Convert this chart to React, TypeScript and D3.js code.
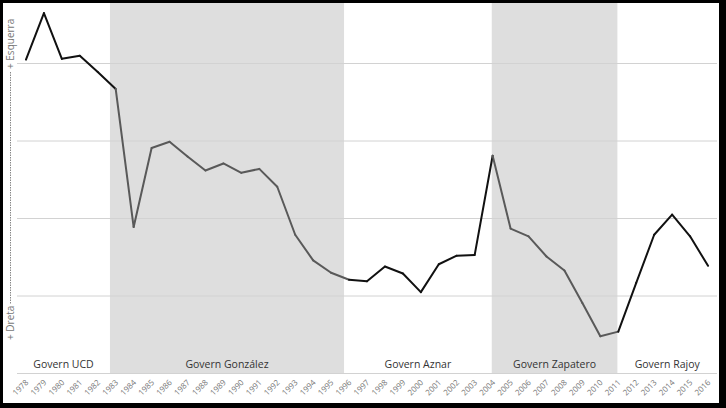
import React from 'react';
import * as d3 from 'd3';

const years = d3.range(1978, 2017);
// position on the left-right axis (0 = baseline, gridlines at 1..4)
const values = [
  4.05, 4.65, 4.06, 4.1, 3.89, 3.67, 1.89, 2.91, 2.99, 2.8, 2.62, 2.71, 2.59,
  2.64, 2.41, 1.79, 1.46, 1.3, 1.21, 1.19, 1.38, 1.29, 1.05, 1.41, 1.52, 1.53,
  2.81, 1.87, 1.77, 1.51, 1.33, 0.91, 0.48, 0.54, 1.17, 1.79, 2.05, 1.77, 1.39,
];
const govNames = ['Govern UCD', 'Govern González', 'Govern Aznar', 'Govern Zapatero', 'Govern Rajoy'];
const govStart = [1977.5, 1982.68, 1995.72, 2003.95, 2010.95];
const govEnd = [1982.68, 1995.72, 2003.95, 2010.95, 2016.5];
const govShaded = [false, true, false, true, false];
const gridValues = [0, 1, 2, 3, 4];

const W = 726;
const H = 408;

const App: React.FC = () => {
  const x = d3.scaleLinear().domain([1977.5, 2016.5]).range([17, 717]);
  const y = d3.scaleLinear().domain([0, 4]).range([373.5, 63.5]);

  const govOf = (yr: number) => govStart.findIndex((s, i) => yr >= s && yr < govEnd[i]);

  const segments = years.slice(0, -1).map((yr, i) => {
    const g = govOf(yr);
    return {
      key: yr,
      d: d3.line<number>().x((_, j) => x(years[i + j])).y(v => y(v))([values[i], values[i + 1]]) || '',
      color: govShaded[g] ? '#595959' : '#111',
    };
  });

  const font = "'Open Sans', 'DejaVu Sans', sans-serif";

  return (
    <svg width={W} height={H} style={{ display: 'block' }} fontFamily={font}>
      <style>{`body{margin:0}`}</style>
      <rect x={0} y={0} width={W} height={H} fill="#000" />
      <rect x={3} y={3} width={716} height={400} fill="#fff" />

      {govNames.map((n, i) =>
        govShaded[i] ? (
          <rect key={n} x={x(govStart[i])} y={3} width={x(govEnd[i]) - x(govStart[i])} height={371} fill="#dedede" />
        ) : null
      )}

      {gridValues.map(v => (
        <line key={v} x1={17} x2={717} y1={y(v)} y2={y(v)} stroke="#d2d2d2" strokeWidth={1} />
      ))}

      {segments.map(s => (
        <path key={s.key} d={s.d} fill="none" stroke={s.color} strokeWidth={2} strokeLinejoin="round" strokeLinecap="round" />
      ))}

      {govNames.map((n, i) => (
        <text key={n} x={(x(Math.max(govStart[i], 1977.5)) + x(Math.min(govEnd[i], 2016.5))) / 2} y={368}
          textAnchor="middle" fontSize={10.5} fill="#333">{n}</text>
      ))}

      {years.map(yr => (
        <text key={yr} transform={`translate(${x(yr) + 3},${383}) rotate(-45)`} textAnchor="end"
          fontSize={8} fill="#777">{yr}</text>
      ))}

      <g transform="translate(14,0)">
        <text transform="translate(0,69) rotate(-90)" textAnchor="start" fontSize={10} fill="#777">+ Esquerra</text>
        <text transform="translate(0,340) rotate(-90)" textAnchor="start" fontSize={10} fill="#777">+ Dreta</text>
        <line x1={-3.5} x2={-3.5} y1={72} y2={304} stroke="#888" strokeWidth={1} strokeDasharray="1.5,1" />
      </g>
    </svg>
  );
};

export default App;
